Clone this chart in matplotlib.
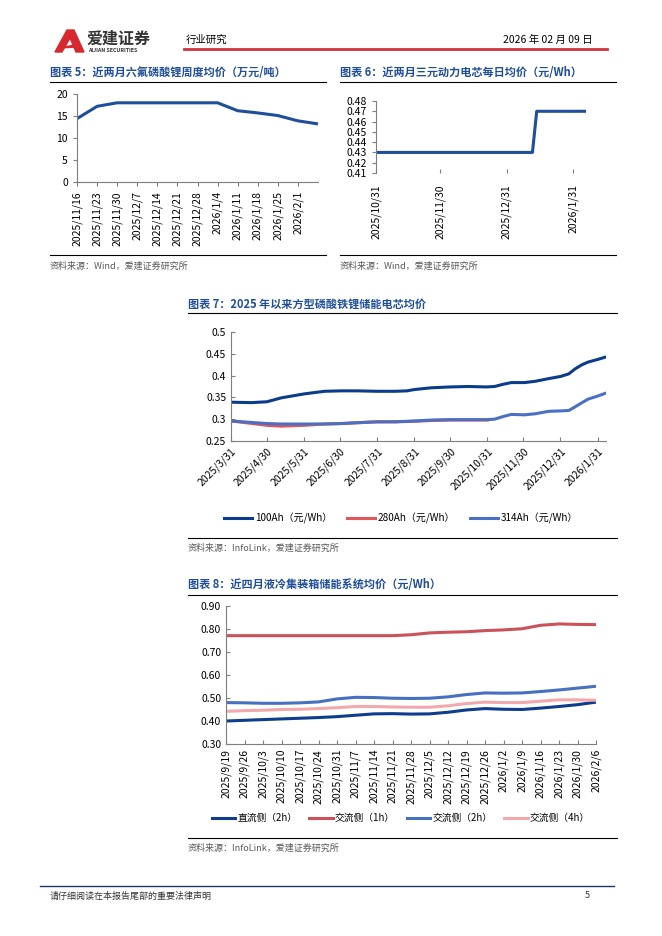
import matplotlib
matplotlib.use('Agg')
import matplotlib.pyplot as plt
import pandas as pd
from matplotlib.patches import Polygon
from matplotlib.lines import Line2D

plt.rcParams['font.family'] = ['Noto Sans CJK SC', 'DejaVu Sans']

# ---- chart 5: LiPF6 weekly price (10k yuan/t)
c5_labels = ['2025/11/16', '2025/11/23', '2025/11/30', '2025/12/7', '2025/12/14', '2025/12/21',
             '2025/12/28', '2026/1/4', '2026/1/11', '2026/1/18', '2026/1/25', '2026/2/1']
c5_values = [14.4, 17.2, 18.0, 18.0, 18.0, 18.0, 18.0, 18.0, 16.2, 15.7, 15.1, 13.9, 13.2]

# ---- chart 6: NCM cell daily price (yuan/Wh), vertices of the line
c6_dates = ['2025-10-31', '2026-01-12', '2026-01-14', '2026-02-06']
c6_values = [0.43, 0.43, 0.47, 0.47]
c6_ticks = ['2025-10-31', '2025-11-30', '2025-12-31', '2026-01-31']
c6_labels = ['2025/10/31', '2025/11/30', '2025/12/31', '2026/1/31']

# ---- chart 7: LFP storage cell prices (yuan/Wh)
c7_100_dates = ['2025-03-31', '2025-04-17', '2025-04-30', '2025-05-12', '2025-05-31', '2025-06-17',
                '2025-07-01', '2025-07-15', '2025-07-31', '2025-08-15', '2025-08-25', '2025-08-31',
                '2025-09-14', '2025-09-30', '2025-10-15', '2025-10-30', '2025-11-06', '2025-11-13',
                '2025-11-20', '2025-12-01', '2025-12-10', '2025-12-21', '2025-12-31', '2026-01-07',
                '2026-01-12', '2026-01-18', '2026-01-23', '2026-01-31', '2026-02-06']
c7_100_values = [0.339, 0.338, 0.340, 0.349, 0.358, 0.364, 0.365, 0.365, 0.364, 0.364, 0.365, 0.368,
                 0.372, 0.374, 0.375, 0.374, 0.375, 0.380, 0.384, 0.384, 0.387, 0.393, 0.398, 0.404,
                 0.415, 0.425, 0.431, 0.437, 0.442]
c7_280_dates = ['2025-03-31', '2025-04-30', '2025-05-12', '2025-05-31', '2025-06-17', '2025-07-01',
                '2025-07-15', '2025-07-31', '2025-08-15', '2025-08-31', '2025-09-14', '2025-09-30',
                '2025-10-31']
c7_280_values = [0.296, 0.286, 0.284, 0.286, 0.289, 0.290, 0.292, 0.294, 0.294, 0.295, 0.297, 0.298, 0.298]
c7_314_dates = ['2025-03-31', '2025-04-30', '2025-05-12', '2025-05-31', '2025-06-17', '2025-07-01',
                '2025-07-15', '2025-07-31', '2025-08-15', '2025-08-31', '2025-09-14', '2025-09-30',
                '2025-10-30', '2025-11-06', '2025-11-13', '2025-11-20', '2025-12-01', '2025-12-10',
                '2025-12-21', '2025-12-31', '2026-01-07', '2026-01-12', '2026-01-18', '2026-01-23',
                '2026-01-31', '2026-02-06']
c7_314_values = [0.296, 0.290, 0.289, 0.289, 0.289, 0.290, 0.292, 0.294, 0.294, 0.296, 0.298, 0.299,
                 0.299, 0.300, 0.306, 0.311, 0.310, 0.3125, 0.318, 0.319, 0.320, 0.328, 0.338, 0.346,
                 0.353, 0.359]
c7_ticks = ['2025-03-31', '2025-04-30', '2025-05-31', '2025-06-30', '2025-07-31', '2025-08-31',
            '2025-09-30', '2025-10-31', '2025-11-30', '2025-12-31', '2026-01-31']
c7_labels = ['2025/3/31', '2025/4/30', '2025/5/31', '2025/6/30', '2025/7/31', '2025/8/31',
             '2025/9/30', '2025/10/31', '2025/11/30', '2025/12/31', '2026/1/31']

# ---- chart 8: liquid-cooled container system prices (yuan/Wh)
c8_labels = ['2025/9/19', '2025/9/26', '2025/10/3', '2025/10/10', '2025/10/17', '2025/10/24',
             '2025/10/31', '2025/11/7', '2025/11/14', '2025/11/21', '2025/11/28', '2025/12/5',
             '2025/12/12', '2025/12/19', '2025/12/26', '2026/1/2', '2026/1/9', '2026/1/16',
             '2026/1/23', '2026/1/30', '2026/2/6']
dc_2h = [0.400, 0.403, 0.406, 0.409, 0.412, 0.415, 0.419, 0.425, 0.431, 0.432, 0.430,
         0.431, 0.438, 0.448, 0.454, 0.451, 0.450, 0.456, 0.463, 0.471, 0.482]
ac_1h = [0.771, 0.771, 0.771, 0.771, 0.771, 0.771, 0.771, 0.771, 0.771, 0.771, 0.775,
         0.783, 0.786, 0.788, 0.793, 0.796, 0.801, 0.816, 0.822, 0.820, 0.819]
ac_2h = [0.480, 0.479, 0.477, 0.477, 0.479, 0.483, 0.496, 0.503, 0.502, 0.499, 0.498,
         0.499, 0.505, 0.515, 0.522, 0.521, 0.522, 0.528, 0.535, 0.543, 0.551]
ac_4h = [0.442, 0.445, 0.447, 0.450, 0.451, 0.454, 0.458, 0.463, 0.463, 0.461, 0.460,
         0.460, 0.466, 0.476, 0.482, 0.480, 0.480, 0.486, 0.492, 0.492, 0.490]

W, H = 662, 936
TITLE = '#1F4E9A'
GREY = '#595959'
AXC = '#7f7f7f'

fig = plt.figure(figsize=(W / 100, H / 100), dpi=100)


def add_ax(l, t, r, b):
    return fig.add_axes([l / W, 1 - b / H, (r - l) / W, (b - t) / H])


def text(x, y, s, **kw):
    fig.text(x / W, 1 - y / H, s, va='center', **kw)


def hline(x0, x1, y, color='black', lw=0.8):
    fig.add_artist(Line2D([x0 / W, x1 / W], [1 - y / H, 1 - y / H], color=color, lw=lw,
                          transform=fig.transFigure))


def style(ax, xin=False):
    for s in ['top', 'right']:
        ax.spines[s].set_visible(False)
    for s in ['left', 'bottom']:
        ax.spines[s].set_color(AXC)
        ax.spines[s].set_linewidth(0.8)
    ax.tick_params(axis='both', colors=AXC, labelcolor='black', labelsize=7.5, width=0.8, length=3)
    if xin:
        ax.tick_params(axis='x', direction='in')


# ---- header
logo = Polygon([(55 / W, 1 - 52 / H), (67 / W, 1 - 30 / H), (74 / W, 1 - 30 / H), (84 / W, 1 - 52 / H),
                (76 / W, 1 - 52 / H), (70 / W, 1 - 38 / H), (62 / W, 1 - 52 / H)],
               closed=True, color='#D7282F', transform=fig.transFigure)
fig.add_artist(logo)
fig.add_artist(Polygon([(59 / W, 1 - 48 / H), (80 / W, 1 - 44 / H), (78 / W, 1 - 47 / H)],
                       closed=True, color='#D7282F', transform=fig.transFigure))
text(87, 39, '爱建证券', fontsize=11.5, fontweight='bold', color='#333333')
text(88, 50, 'AIJIAN SECURITIES', fontsize=3.8, fontweight='bold', color='#333333')
text(186, 40, '行业研究', fontsize=7.5)
text(593, 40, '2026 年 02 月 09 日', fontsize=7.5, ha='right')
hline(184, 607, 49, color='#D0343A', lw=2)

# ---- chart 5
text(50, 73, '图表 5：近两月六氟磷酸锂周度均价（万元/吨）', fontsize=8, fontweight='bold', color=TITLE)
hline(50, 326, 82)
ax5 = add_ax(77, 94, 318, 182)
ax5.plot(range(len(c5_values)), c5_values, color='#1F4E9B', lw=2.2, solid_capstyle='butt')
ax5.set_xlim(0, len(c5_values) - 1)
ax5.set_ylim(0, 20)
ax5.set_yticks([0, 5, 10, 15, 20])
ax5.set_xticks(range(len(c5_labels)))
ax5.set_xticklabels(c5_labels, rotation=90)
style(ax5)
hline(50, 326, 255)
text(50, 266, '资料来源：Wind，爱建证券研究所', fontsize=6.5, color=GREY)

# ---- chart 6
text(340, 73, '图表 6：近两月三元动力电芯每日均价（元/Wh）', fontsize=8, fontweight='bold', color=TITLE)
hline(340, 616, 82)
ax6 = add_ax(376, 101, 586, 173)
ax6.plot(pd.to_datetime(c6_dates), c6_values, color='#1F4E9B', lw=2.2)
ax6.set_xlim(pd.Timestamp('2025-10-31'), pd.Timestamp('2026-02-06'))
ax6.set_ylim(0.41, 0.48)
ax6.set_yticks([0.41, 0.42, 0.43, 0.44, 0.45, 0.46, 0.47, 0.48])
ax6.set_yticklabels(['%.2f' % v for v in [0.41, 0.42, 0.43, 0.44, 0.45, 0.46, 0.47, 0.48]])
ax6.set_xticks(pd.to_datetime(c6_ticks))
ax6.set_xticklabels(c6_labels, rotation=90)
style(ax6, xin=True)
ax6.spines['bottom'].set_visible(False)
ax6.tick_params(axis='x', pad=8)
hline(340, 616, 255)
text(340, 266, '资料来源：Wind，爱建证券研究所', fontsize=6.5, color=GREY)

# ---- chart 7
text(188, 304, '图表 7：2025 年以来方型磷酸铁锂储能电芯均价', fontsize=8, fontweight='bold', color=TITLE)
hline(188, 617, 313)
ax7 = add_ax(231, 332, 606, 441)
ax7.plot(pd.to_datetime(c7_100_dates), c7_100_values, color='#0B3C8C', lw=2.2, label='100Ah（元/Wh）')
ax7.plot(pd.to_datetime(c7_280_dates), c7_280_values, color='#E0575B', lw=2.2, label='280Ah（元/Wh）')
ax7.plot(pd.to_datetime(c7_314_dates), c7_314_values, color='#4A70C4', lw=2.2, label='314Ah（元/Wh）')
ax7.set_xlim(pd.Timestamp('2025-03-31'), pd.Timestamp('2026-02-07'))
ax7.set_ylim(0.25, 0.5)
ax7.set_yticks([0.25, 0.3, 0.35, 0.4, 0.45, 0.5])
ax7.set_yticklabels(['0.25', '0.3', '0.35', '0.4', '0.45', '0.5'])
ax7.set_xticks(pd.to_datetime(c7_ticks))
ax7.set_xticklabels(c7_labels, rotation=45, ha='right', rotation_mode='anchor')
style(ax7, xin=True)
ax7.tick_params(axis='y', direction='in')
ax7.legend(loc='center', bbox_to_anchor=(401 / W, 1 - 518 / H), bbox_transform=fig.transFigure,
           ncol=3, frameon=False, fontsize=7.2, handlelength=2.8, columnspacing=1.5, handletextpad=0.25)
hline(188, 617, 538)
text(188, 548, '资料来源：InfoLink，爱建证券研究所', fontsize=6.5, color=GREY)

# ---- chart 8
text(188, 585, '图表 8：近四月液冷集装箱储能系统均价（元/Wh）', fontsize=8, fontweight='bold', color=TITLE)
hline(188, 617, 595)
ax8 = add_ax(226, 606, 596, 744)
x8 = range(len(c8_labels))
ax8.plot(x8, dc_2h, color='#0E3D8E', lw=2.2, label='直流侧（2h）')
ax8.plot(x8, ac_1h, color='#CB515B', lw=2.2, label='交流侧（1h）')
ax8.plot(x8, ac_2h, color='#4670C0', lw=2.2, label='交流侧（2h）')
ax8.plot(x8, ac_4h, color='#F2A9AD', lw=2.2, label='交流侧（4h）')
ax8.set_xlim(0, len(c8_labels) - 1)
ax8.set_ylim(0.3, 0.9)
ax8.set_yticks([0.3, 0.4, 0.5, 0.6, 0.7, 0.8, 0.9])
ax8.set_yticklabels(['%.2f' % v for v in [0.3, 0.4, 0.5, 0.6, 0.7, 0.8, 0.9]])
ax8.set_xticks(list(x8))
ax8.set_xticklabels(c8_labels, rotation=90)
style(ax8, xin=True)
ax8.tick_params(axis='y', direction='in')
ax8.legend(loc='center', bbox_to_anchor=(401 / W, 1 - 818 / H), bbox_transform=fig.transFigure,
           ncol=4, frameon=False, fontsize=7.0, handlelength=2.4, columnspacing=1.2, handletextpad=0.25)
hline(188, 617, 838)
text(188, 848, '资料来源：InfoLink，爱建证券研究所', fontsize=6.5, color=GREY)

# ---- footer
hline(40, 614, 886, color='#1F3864', lw=1)
text(50, 896, '请仔细阅读在本报告尾部的重要法律声明', fontsize=6.5, color='#333333')
text(590, 896, '5', fontsize=6.5, color='#333333', ha='right')

fig.savefig('out.png', dpi=100)
